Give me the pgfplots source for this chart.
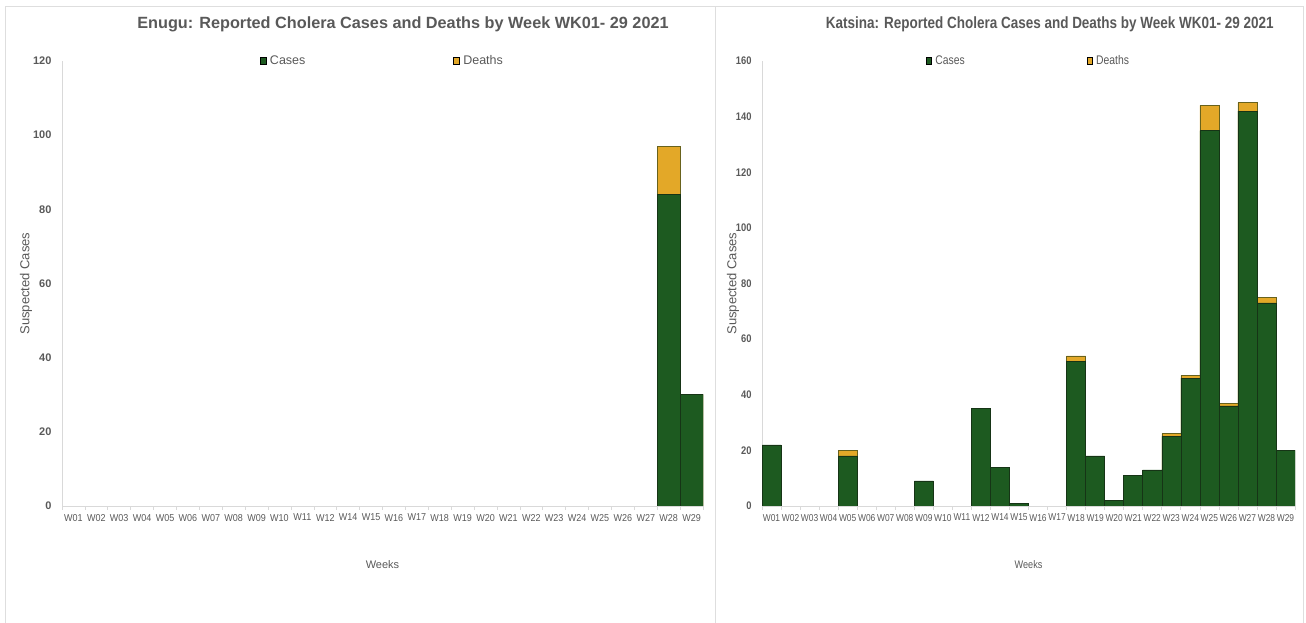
\documentclass[border=0pt]{standalone}
\usepackage{fontspec}
\setmainfont{Liberation Sans}
\newfontfamily\fXL{Liberation Sans}[FakeStretch=0.9]
\newfontfamily\fXR{Liberation Sans}[FakeStretch=0.84]
\newfontfamily\fR{Liberation Sans}[FakeStretch=0.83]
\newfontfamily\fYR{Liberation Sans}[FakeStretch=0.85]
\usepackage{pgfplots}
\pgfplotsset{compat=1.18}
\definecolor{cgreen}{RGB}{29,90,32}
\definecolor{cgold}{RGB}{227,168,40}
\definecolor{cedge}{RGB}{22,52,22}
\definecolor{txt}{RGB}{89,89,89}
\definecolor{axl}{RGB}{217,217,217}
\definecolor{bord}{RGB}{222,222,222}
\pgfplotsset{
  mybar/.style={
    scale only axis, ybar, bar width=1, bar shift=0pt,
    xmin=-0.5, xmax=27.5, ymin=0,
    axis x line*=bottom, axis y line*=left,
    axis line style={axl, line width=0.6pt},
    xtick={0,...,27},
    xticklabels={W01,W02,W03,W04,W05,W06,W07,W08,W09,W10,W11,W12,W14,W15,W16,W17,W18,W19,W20,W21,W22,W23,W24,W25,W26,W27,W28,W29},
    minor xtick={-0.5,0.5,...,27.5},
    major tick length=0pt, minor tick length=4pt, xtick align=outside,
    minor tick style={axl, line width=0.6pt},
    ytick style={draw=none},
    /pgf/number format/assume math mode=true,
    yticklabel style={text=txt, xshift=-7pt},
    xticklabel style={text=txt, yshift=-4.5pt},
    legend image code/.code={\fill[##1] (0pt,-3.5pt) rectangle (5.5pt,4pt);},
    legend style={draw=none, fill=none, at={(0.5,1)}, anchor=center, text=txt},
    legend columns=2,
    every axis y label/.style={rotate=90, anchor=center, text=txt, font=\fontsize{13}{15}\selectfont},
    every axis x label/.style={anchor=center, text=txt},
    cases/.style={fill=cgreen, draw=cedge, line width=0.5pt, forget plot},
    deaths/.style={fill=cgold, draw=cedge!60!cgold, line width=0.5pt, forget plot},
  }
}
\begin{document}
\begin{tikzpicture}[x=1pt,y=1pt]
\path[use as bounding box] (0,0) rectangle (1306,623);
\draw[bord, line width=0.8pt] (5,-2) rectangle (715,617);
\draw[bord, line width=0.8pt] (715,-2) rectangle (1303,617);
% Left: Enugu
\begin{axis}[mybar,
  at={(62pt,117pt)}, anchor=south west, width=641pt, height=445pt,
  ymax=120, ytick={0,20,...,120},
  yticklabel style={font=\bfseries\fontsize{11}{13}\selectfont},
  xticklabel style={font=\fXL\fontsize{10}{12}\selectfont},
  legend style={font=\fontsize{12.5}{14}\selectfont, /tikz/every even column/.append style={column sep=146pt}},
  title={Enugu: Reported Cholera Cases and Deaths by Week WK01- 29 2021},
  title style={at={(axis description cs:0.532,1.0697)}, anchor=center, text=txt, font=\bfseries\fontsize{16.25}{18}\selectfont},
  ylabel={Suspected Cases},
  ylabel style={at={(axis description cs:-0.0562,0.5)}},
  xlabel={Weeks},
  xlabel style={at={(axis description cs:0.5,-0.1326)}, font=\fontsize{11}{13}\selectfont},
]
\addlegendimage{fill=cgreen}\addlegendentry{\hspace{2pt}Cases}
\addlegendimage{fill=cgold}\addlegendentry{\hspace{2pt}Deaths}
% cases + deaths (total height)
\addplot[deaths] coordinates {(26,97) (27,30)};
% cases
\addplot[cases] coordinates {(26,84) (27,30)};
\end{axis}
% Right: Katsina
\begin{axis}[mybar,
  at={(762pt,117pt)}, anchor=south west, width=533pt, height=445pt,
  ymax=160, ytick={0,20,...,160},
  yticklabel style={font=\fYR\bfseries\fontsize{11}{13}\selectfont},
  xticklabel style={font=\fXR\fontsize{10}{12}\selectfont},
  legend style={font=\fR\fontsize{12.5}{14}\selectfont, /tikz/every even column/.append style={column sep=120pt}},
  title={Katsina: Reported Cholera Cases and Deaths by Week WK01- 29 2021},
  title style={at={(axis description cs:0.540,1.0697)}, anchor=center, text=txt, font=\fR\bfseries\fontsize{16.25}{18}\selectfont},
  ylabel={Suspected Cases},
  ylabel style={at={(axis description cs:-0.0544,0.5)}},
  xlabel={Weeks},
  xlabel style={at={(axis description cs:0.5,-0.1326)}, font=\fR\fontsize{11}{13}\selectfont},
]
\addlegendimage{fill=cgreen}\addlegendentry{\hspace{1.5pt}Cases}
\addlegendimage{fill=cgold}\addlegendentry{\hspace{1.5pt}Deaths}
% cases + deaths (total height) where deaths > 0
\addplot[deaths] coordinates {(4,20) (16,54) (21,26) (22,47) (23,144) (24,37) (25,145) (26,75)};
% cases
\addplot[cases] coordinates {(0,22) (4,18) (8,9) (11,35) (12,14) (13,1) (16,52) (17,18) (18,2) (19,11) (20,13) (21,25) (22,46) (23,135) (24,36) (25,142) (26,73) (27,20)};
\end{axis}
\end{tikzpicture}
\end{document}
